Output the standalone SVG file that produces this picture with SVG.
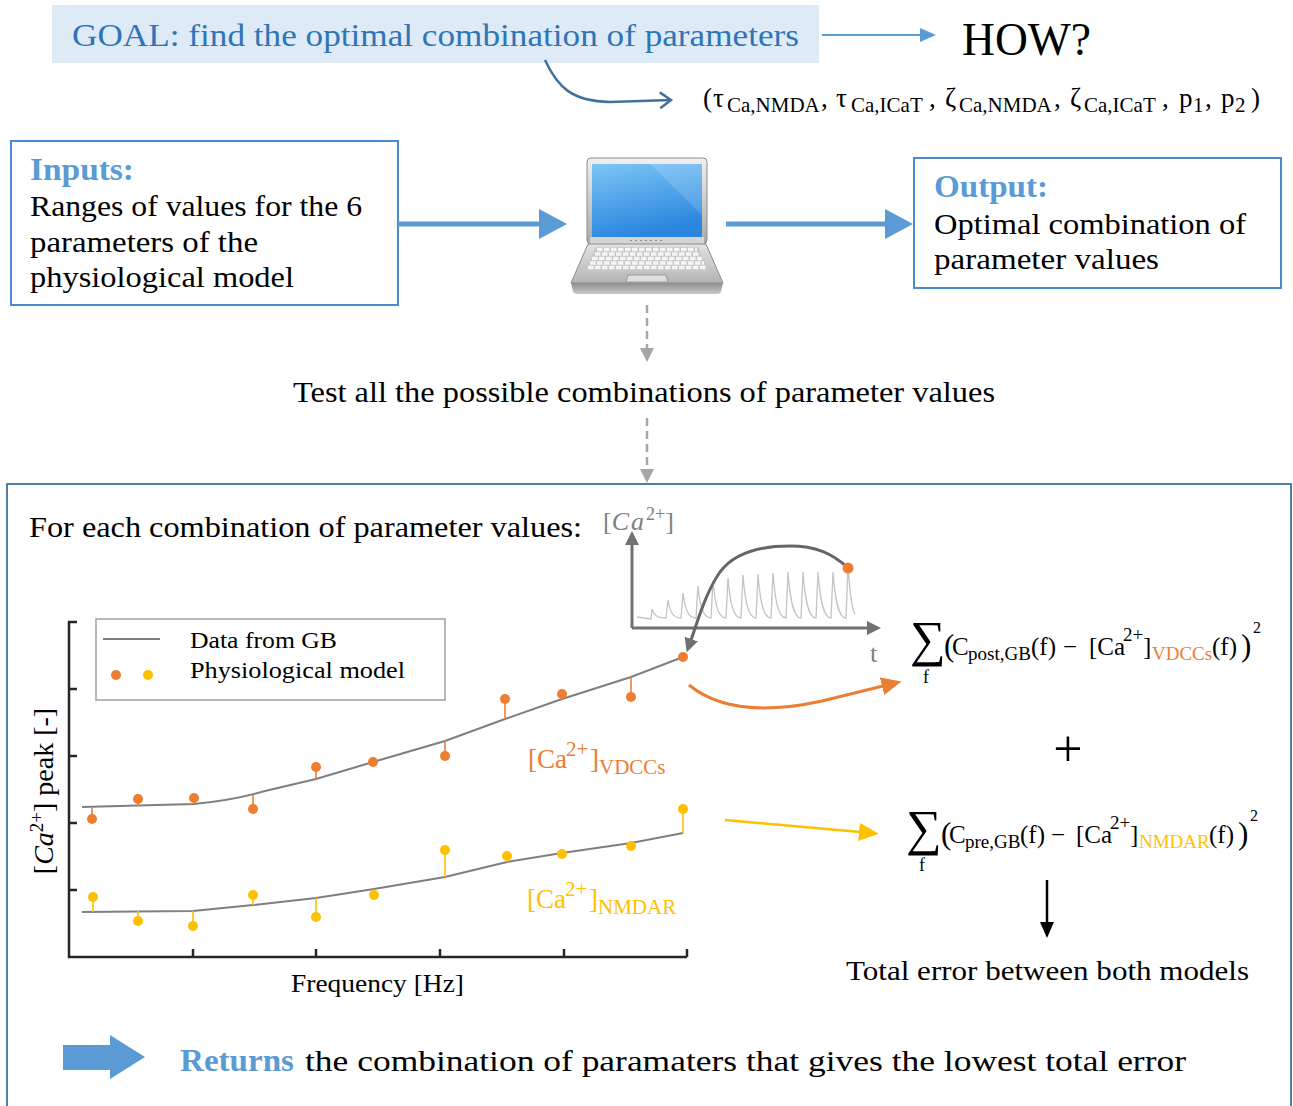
<svg xmlns="http://www.w3.org/2000/svg" width="1293" height="1106" viewBox="0 0 1293 1106">
  <style>
    .serif { font-family: "Liberation Serif", "DejaVu Serif", serif; fill: #000; }
    .body { font-family: "Liberation Serif", "DejaVu Serif", serif; font-size: 30px; fill: #000; }
    .head { font-family: "Liberation Serif", "DejaVu Serif", serif; font-size: 31px; font-weight: bold; fill: #5b9bd5; }
    .math { font-family: "Liberation Serif", "DejaVu Serif", serif; font-size: 25px; fill: #000; }
    .sub { font-size: 19px; }
    .tsub { font-size: 21px; }
    .big { font-size: 31px; }
    .box { fill: #fff; stroke: #4a8bd0; stroke-width: 2; }
    .thick { stroke: #5b9bd5; stroke-width: 5; fill: none; }
    .dash { stroke: #a6a6a6; stroke-width: 2.5; stroke-dasharray: 8 5; fill: none; }
    .axis { stroke: #262626; stroke-width: 2.5; fill: none; }
    .fit { stroke: #7f7f7f; stroke-width: 2; fill: none; }
    .stemO { stroke: #ed7d31; stroke-width: 1.6; }
    .stemY { stroke: #ffc000; stroke-width: 1.6; }
    .dotO { fill: #ed7d31; }
    .dotY { fill: #ffc000; }
    .inset { stroke: #707070; stroke-width: 3; fill: none; }
  </style>
  <defs>
    <marker id="hBlueSm" markerUnits="userSpaceOnUse" markerWidth="16" markerHeight="14" refX="2" refY="7" orient="auto">
      <path d="M0,0 L16,7 L0,14 z" fill="#5b9bd5"/>
    </marker>
    <marker id="hBlueBig" markerUnits="userSpaceOnUse" markerWidth="28" markerHeight="30" refX="2" refY="15" orient="auto">
      <path d="M0,0 L28,15 L0,30 z" fill="#5b9bd5"/>
    </marker>
    <marker id="hChevron" markerUnits="userSpaceOnUse" markerWidth="16" markerHeight="20" refX="13" refY="10" orient="auto">
      <path d="M2,2 L13,10 L2,18" fill="none" stroke="#41719c" stroke-width="2.5"/>
    </marker>
    <marker id="hGray" markerUnits="userSpaceOnUse" markerWidth="14" markerHeight="14" refX="1" refY="7" orient="auto">
      <path d="M0,0 L14,7 L0,14 z" fill="#a6a6a6"/>
    </marker>
    <marker id="hDark" markerUnits="userSpaceOnUse" markerWidth="14" markerHeight="14" refX="1" refY="7" orient="auto">
      <path d="M0,0 L14,7 L0,14 z" fill="#707070"/>
    </marker>
    <marker id="hOrange" markerUnits="userSpaceOnUse" markerWidth="20" markerHeight="18" refX="1" refY="9" orient="auto">
      <path d="M0,0 L20,9 L0,18 z" fill="#ed7d31"/>
    </marker>
    <marker id="hYellow" markerUnits="userSpaceOnUse" markerWidth="20" markerHeight="18" refX="1" refY="9" orient="auto">
      <path d="M0,0 L20,9 L0,18 z" fill="#ffc000"/>
    </marker>
    <marker id="hBlack" markerUnits="userSpaceOnUse" markerWidth="16" markerHeight="14" refX="1" refY="7" orient="auto">
      <path d="M0,0 L16,7 L0,14 z" fill="#000"/>
    </marker>
    <linearGradient id="gLid" x1="0" y1="0" x2="0" y2="1">
      <stop offset="0" stop-color="#f0f0f0"/>
      <stop offset="1" stop-color="#a9a9a9"/>
    </linearGradient>
    <linearGradient id="gScreen" x1="0" y1="0" x2="0.3" y2="1">
      <stop offset="0" stop-color="#7cc6f6"/>
      <stop offset="1" stop-color="#2b86de"/>
    </linearGradient>
    <linearGradient id="gBase" x1="0" y1="0" x2="0" y2="1">
      <stop offset="0" stop-color="#e2e2e2"/>
      <stop offset="1" stop-color="#b4b4b4"/>
    </linearGradient>
    <linearGradient id="gFront" x1="0" y1="0" x2="0" y2="1">
      <stop offset="0" stop-color="#8e8e8e"/>
      <stop offset="1" stop-color="#c9c9c9"/>
    </linearGradient>
  </defs>

  <rect width="1293" height="1106" fill="#fff"/>

  <!-- goal banner -->
  <g id="goal">
    <rect x="52" y="5" width="767" height="58" fill="#deebf7"/>
    <text x="72" y="46" class="serif" font-size="31" style="fill:#2e75b6" textLength="727" lengthAdjust="spacingAndGlyphs">GOAL: find the optimal combination of parameters</text>
  </g>

  <g id="how">
    <text x="962" y="55" class="serif" font-size="46" textLength="129" lengthAdjust="spacingAndGlyphs">HOW?</text>
  </g>

  <!-- parameter tuple -->
  <g id="tuple">
    <text y="107" class="math" style="font-size:27px">
      <tspan x="703">(</tspan><tspan x="713">τ</tspan><tspan x="727" dy="5" class="tsub">Ca,NMDA</tspan><tspan x="821" dy="-5">,</tspan>
      <tspan x="836">τ</tspan><tspan x="851" dy="5" class="tsub">Ca,ICaT</tspan><tspan x="929" dy="-5">,</tspan>
      <tspan x="945">ζ</tspan><tspan x="959" dy="5" class="tsub">Ca,NMDA</tspan><tspan x="1054" dy="-5">,</tspan>
      <tspan x="1070">ζ</tspan><tspan x="1084" dy="5" class="tsub">Ca,ICaT</tspan><tspan x="1162" dy="-5">,</tspan>
      <tspan x="1179">p</tspan><tspan x="1193" dy="5" class="tsub">1</tspan><tspan x="1205" dy="-5">,</tspan>
      <tspan x="1221">p</tspan><tspan x="1235" dy="5" class="tsub">2</tspan><tspan x="1251" dy="-5">)</tspan>
    </text>
  </g>

  <!-- inputs node -->
  <g id="inputs">
    <rect x="11" y="141" width="387" height="164" class="box"/>
    <text x="30" y="180" class="head" textLength="104" lengthAdjust="spacingAndGlyphs">Inputs:</text>
    <text x="30" y="216" class="body" textLength="332" lengthAdjust="spacingAndGlyphs">Ranges of values for the 6</text>
    <text x="30" y="252" class="body" textLength="228" lengthAdjust="spacingAndGlyphs">parameters of the</text>
    <text x="30" y="287" class="body" textLength="264" lengthAdjust="spacingAndGlyphs">physiological model</text>
  </g>

  <!-- computer -->
  <g id="laptop">
    <rect x="587" y="158" width="120" height="86" rx="4" fill="url(#gLid)" stroke="#8c8c8c" stroke-width="1"/>
    <rect x="592" y="164" width="110" height="73" fill="url(#gScreen)"/>
    <path d="M650,164 L702,164 L702,215 Z" fill="#ffffff" opacity="0.15"/>
    <rect x="590" y="237" width="114" height="7" fill="#d4d4d4"/>
    <line x1="630" y1="240.5" x2="664" y2="240.5" stroke="#8a8a8a" stroke-width="1" stroke-dasharray="2 3"/>
    <path d="M588,244 L706,244 L723,283 L571,283 Z" fill="url(#gBase)" stroke="#8c8c8c" stroke-width="1"/>
    <path d="M571,283 L723,283 L721,292 Q720,294 717,294 L577,294 Q574,294 573,292 Z" fill="url(#gFront)"/>
    <path d="M596,247 L698,247 L709,272 L585,272 Z" fill="#c6c6c6"/>
    <g stroke="#f6f6f6" stroke-width="3.4" stroke-dasharray="5.5 1.5">
      <line x1="597" y1="249.5" x2="697" y2="249.5"/>
      <line x1="595" y1="254" x2="699" y2="254"/>
      <line x1="592" y1="258.5" x2="702" y2="258.5"/>
      <line x1="590" y1="263" x2="704" y2="263"/>
      <line x1="588" y1="267.5" x2="706" y2="267.5"/>
    </g>
    <path d="M628,275 L666,275 L668,282 L626,282 Z" fill="#dedede" stroke="#9a9a9a" stroke-width="1"/>
  </g>

  <!-- output node -->
  <g id="output">
    <rect x="914" y="158" width="367" height="130" class="box"/>
    <text x="934" y="197" class="head" textLength="114" lengthAdjust="spacingAndGlyphs">Output:</text>
    <text x="934" y="234" class="body" textLength="312" lengthAdjust="spacingAndGlyphs">Optimal combination of</text>
    <text x="934" y="269" class="body" textLength="225" lengthAdjust="spacingAndGlyphs">parameter values</text>
  </g>

  <g id="test-step">
    <text x="293" y="402" class="body" textLength="702" lengthAdjust="spacingAndGlyphs">Test all the possible combinations of parameter values</text>
  </g>

  <!-- evaluation panel -->
  <g id="evaluation">
    <rect x="7" y="484" width="1284" height="640" fill="none" stroke="#41719c" stroke-width="1.8"/>
    <text x="29" y="537" class="body" textLength="553" lengthAdjust="spacingAndGlyphs">For each combination of parameter values:</text>

    <!-- inset: calcium trace over time -->
    <g id="trace">
      <line x1="632" y1="628" x2="632" y2="544" class="inset" marker-end="url(#hDark)"/>
      <line x1="632" y1="628" x2="868" y2="628" class="inset" marker-end="url(#hDark)"/>
      <text x="603" y="530" class="serif" font-size="26" style="fill:#7f7f7f"><tspan>[</tspan><tspan font-style="italic" letter-spacing="2">Ca</tspan><tspan dy="-10" font-size="18">2+</tspan><tspan dy="10">]</tspan></text>
      <text x="870" y="662" class="serif" font-size="26" style="fill:#7f7f7f">t</text>
      <path fill="none" stroke="#c4c4c4" stroke-width="1.3" d="M637,617 L651,619
        L652,609 C654,615 657,618 666,618
        L668,600 C670,612 673,618 681,618
        L683,593 C685,609 688,618 696,618
        L698,586 C700,606 703,618 711,618
        L713,581 C715,604 718,618 726,618
        L728,578 C730,602 733,618 741,618
        L743,575 C745,600 748,618 756,618
        L758,574 C760,600 763,618 771,618
        L773,573 C775,599 778,618 786,618
        L788,572 C790,598 793,618 801,618
        L803,572 C805,598 808,618 816,618
        L818,572 C820,598 823,618 831,618
        L833,572 C835,598 838,618 846,618
        L848,567 C850,595 852,610 855,614"/>
      <path d="M848,568 C832,553 815,546 790,546 C762,546 735,552 720,572 C706,592 698,620 691,640" stroke="#666" stroke-width="3" fill="none" marker-end="url(#hDark)"/>
      <circle cx="848" cy="568" r="5.5" class="dotO"/>
    </g>

    <!-- peak calcium vs frequency -->
    <g id="freq-plot">
      <path class="axis" d="M77,622 L69,622 L69,957 L687,957"/>
      <g class="axis">
        <line x1="69" y1="689" x2="77" y2="689"/>
        <line x1="69" y1="756" x2="77" y2="756"/>
        <line x1="69" y1="823" x2="77" y2="823"/>
        <line x1="69" y1="890" x2="77" y2="890"/>
        <line x1="193" y1="957" x2="193" y2="949"/>
        <line x1="316" y1="957" x2="316" y2="949"/>
        <line x1="440" y1="957" x2="440" y2="949"/>
        <line x1="564" y1="957" x2="564" y2="949"/>
        <line x1="687" y1="957" x2="687" y2="949"/>
      </g>
      <text transform="translate(53,791) rotate(-90)" text-anchor="middle" class="serif" font-size="28">[<tspan font-style="italic">Ca</tspan><tspan dy="-10" font-size="19">2+</tspan><tspan dy="10">] peak [-]</tspan></text>
      <text x="291" y="992" class="serif" font-size="25" textLength="173" lengthAdjust="spacingAndGlyphs">Frequency [Hz]</text>

      <path class="fit" d="M82,807 L194,804 C225,801 245,797 265,791 L316,779 L373,762 L445,741 L505,719 L562,699 L631,677 L683,657"/>
      <path class="fit" d="M82,912 L193,911 L253,905 L316,898 L374,889 L445,877 L507,862 L562,853 L631,843 L683,833"/>

      <g class="stemO">
        <line x1="92" y1="807" x2="92" y2="819"/>
        <line x1="138" y1="799" x2="138" y2="806"/>
        <line x1="194" y1="798" x2="194" y2="804"/>
        <line x1="253" y1="795" x2="253" y2="809"/>
        <line x1="316" y1="767" x2="316" y2="779"/>
        <line x1="445" y1="741" x2="445" y2="756"/>
        <line x1="505" y1="699" x2="505" y2="719"/>
        <line x1="562" y1="694" x2="562" y2="699"/>
        <line x1="631" y1="677" x2="631" y2="697"/>
      </g>
      <g class="dotO">
        <circle cx="92" cy="819" r="5"/>
        <circle cx="138" cy="799" r="5"/>
        <circle cx="194" cy="798" r="5"/>
        <circle cx="253" cy="809" r="5"/>
        <circle cx="316" cy="767" r="5"/>
        <circle cx="373" cy="762" r="5"/>
        <circle cx="445" cy="756" r="5"/>
        <circle cx="505" cy="699" r="5"/>
        <circle cx="562" cy="694" r="5"/>
        <circle cx="631" cy="697" r="5"/>
        <circle cx="683" cy="657" r="5"/>
      </g>

      <g class="stemY">
        <line x1="93" y1="897" x2="93" y2="912"/>
        <line x1="138" y1="911" x2="138" y2="921"/>
        <line x1="193" y1="911" x2="193" y2="926"/>
        <line x1="253" y1="895" x2="253" y2="905"/>
        <line x1="316" y1="898" x2="316" y2="917"/>
        <line x1="374" y1="889" x2="374" y2="895"/>
        <line x1="445" y1="850" x2="445" y2="877"/>
        <line x1="507" y1="856" x2="507" y2="862"/>
        <line x1="631" y1="843" x2="631" y2="846"/>
        <line x1="683" y1="809" x2="683" y2="833"/>
      </g>
      <g class="dotY">
        <circle cx="93" cy="897" r="5"/>
        <circle cx="138" cy="921" r="5"/>
        <circle cx="193" cy="926" r="5"/>
        <circle cx="253" cy="895" r="5"/>
        <circle cx="316" cy="917" r="5"/>
        <circle cx="374" cy="895" r="5"/>
        <circle cx="445" cy="850" r="5"/>
        <circle cx="507" cy="856" r="5"/>
        <circle cx="562" cy="854" r="5"/>
        <circle cx="631" cy="846" r="5"/>
        <circle cx="683" cy="809" r="5"/>
      </g>

      <text y="768" class="math" style="fill:#ed7d31;font-size:27px"><tspan x="528">[Ca</tspan><tspan x="566" dy="-12" class="tsub">2+</tspan><tspan x="590" dy="12">]</tspan><tspan x="599" dy="6" class="tsub">VDCCs</tspan></text>
      <text y="908" class="math" style="fill:#ffc000;font-size:27px"><tspan x="527">[Ca</tspan><tspan x="565" dy="-12" class="tsub">2+</tspan><tspan x="589" dy="12">]</tspan><tspan x="598" dy="6" class="tsub">NMDAR</tspan></text>

      <!-- legend -->
      <g id="legend">
        <rect x="96" y="619" width="349" height="81" fill="#fff" stroke="#a0a0a0" stroke-width="1.5"/>
        <line x1="103" y1="639" x2="160" y2="639" class="fit"/>
        <circle cx="116" cy="675" r="5" class="dotO"/>
        <circle cx="148" cy="675" r="5" class="dotY"/>
        <text x="190" y="648" class="serif" font-size="24" textLength="147" lengthAdjust="spacingAndGlyphs">Data from GB</text>
        <text x="190" y="678" class="serif" font-size="24" textLength="215" lengthAdjust="spacingAndGlyphs">Physiological model</text>
      </g>
    </g>

    <!-- error terms -->
    <g id="error-vdcc">
      <text x="910" y="656" class="serif" font-size="50">∑</text>
      <text x="923" y="683" class="serif" font-size="18">f</text>
      <text y="655" class="math">
        <tspan x="944" class="big" dy="1">(</tspan><tspan x="952" dy="-1">C</tspan><tspan x="968" dy="5" class="sub">post,GB</tspan><tspan x="1031" dy="-5">(f)</tspan><tspan x="1063">−</tspan><tspan x="1089">[Ca</tspan><tspan x="1123" dy="-14" class="sub">2+</tspan><tspan x="1143" dy="14">]</tspan><tspan x="1152" dy="5" class="sub" style="fill:#ed7d31">VDCCs</tspan><tspan x="1212" dy="-5">(f)</tspan><tspan x="1241" class="big" dy="1">)</tspan><tspan x="1253" dy="-23" font-size="16">2</tspan>
      </text>
    </g>

    <g id="plus">
      <text x="1068" y="766" text-anchor="middle" class="serif" font-size="52">+</text>
    </g>

    <g id="error-nmdar">
      <text x="906" y="845" class="serif" font-size="50">∑</text>
      <text x="919" y="871" class="serif" font-size="18">f</text>
      <text y="843" class="math">
        <tspan x="941" class="big" dy="1">(</tspan><tspan x="949" dy="-1">C</tspan><tspan x="965" dy="5" class="sub">pre,GB</tspan><tspan x="1020" dy="-5">(f)</tspan><tspan x="1051">−</tspan><tspan x="1076">[Ca</tspan><tspan x="1110" dy="-14" class="sub">2+</tspan><tspan x="1130" dy="14">]</tspan><tspan x="1139" dy="5" class="sub" style="fill:#ffc000">NMDAR</tspan><tspan x="1209" dy="-5">(f)</tspan><tspan x="1238" class="big" dy="1">)</tspan><tspan x="1250" dy="-23" font-size="16">2</tspan>
      </text>
    </g>

    <g id="total-error">
      <text x="846" y="980" class="body" style="font-size:28px" textLength="403" lengthAdjust="spacingAndGlyphs">Total error between both models</text>
    </g>

    <g id="result">
      <path d="M63,1045 L110,1045 L110,1035 L145,1057 L110,1079 L110,1070 L63,1070 Z" fill="#5b9bd5"/>
      <text x="180" y="1071" class="head" textLength="114" lengthAdjust="spacingAndGlyphs">Returns</text>
      <text x="305" y="1071" class="body" textLength="881" lengthAdjust="spacingAndGlyphs">the combination of paramaters that gives the lowest total error</text>
    </g>
  </g>

  <!-- connectors -->
  <g id="connectors">
    <line x1="822" y1="35" x2="922" y2="35" stroke="#5b9bd5" stroke-width="2" marker-end="url(#hBlueSm)"/>
    <path d="M545,60 C558,88 572,101 610,102 L671,100" fill="none" stroke="#41719c" stroke-width="2.5" marker-end="url(#hChevron)"/>
    <line x1="398" y1="224" x2="541" y2="224" class="thick" marker-end="url(#hBlueBig)"/>
    <line x1="726" y1="224" x2="887" y2="224" class="thick" marker-end="url(#hBlueBig)"/>
    <line x1="647" y1="305" x2="647" y2="349" class="dash" marker-end="url(#hGray)"/>
    <line x1="647" y1="418" x2="647" y2="470" class="dash" marker-end="url(#hGray)"/>
    <path d="M689,685 C722,712 772,712 822,701 L883,686" fill="none" stroke="#ed7d31" stroke-width="3" marker-end="url(#hOrange)"/>
    <line x1="725" y1="820" x2="860" y2="832" stroke="#ffc000" stroke-width="2.5" marker-end="url(#hYellow)"/>
    <line x1="1047" y1="880" x2="1047" y2="923" stroke="#000" stroke-width="2.5" marker-end="url(#hBlack)"/>
  </g>
</svg>
